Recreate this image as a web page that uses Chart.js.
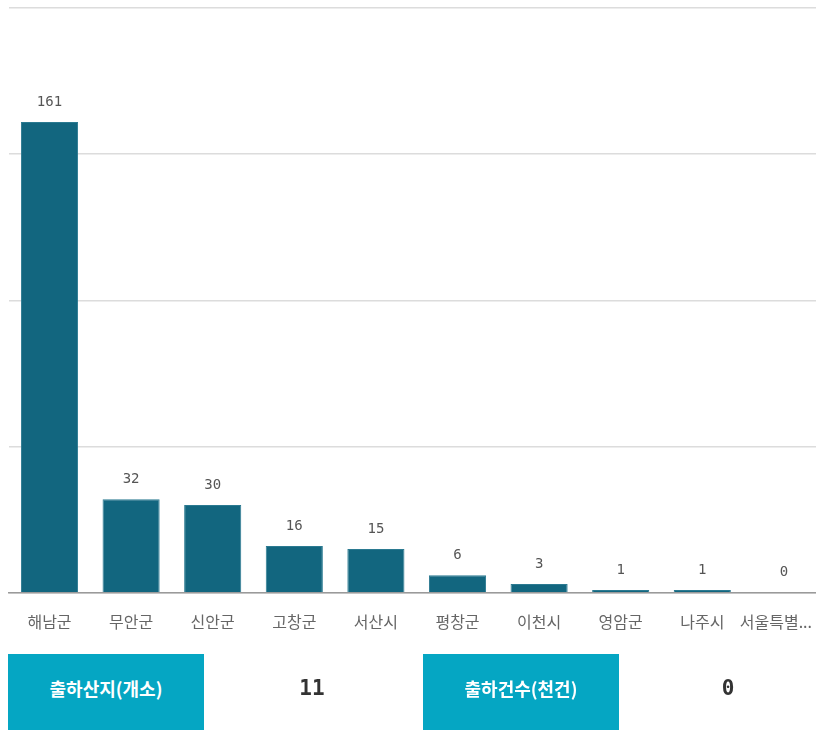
<!DOCTYPE html>
<html>
<head>
<meta charset="utf-8">
<script src="https://cdn.jsdelivr.net/npm/chart.js@4/dist/chart.umd.min.js"></script>
<style>
  html, body { margin: 0; padding: 0; background: #fff; overflow: hidden; width: 816px; height: 730px; }
  #chart { position: absolute; left: 0; top: 0; }
  .box { position: absolute; top: 654px; height: 80px; width: 196px; background: #05a6c3; color: #fff;
         font: bold 18px "Noto Sans CJK KR", sans-serif; text-align: center; line-height: 68px; }
  .num { position: absolute; top: 654px; height: 68px; width: 196px; color: #333;
         font: bold 21px "DejaVu Sans Mono", monospace; text-align: center; line-height: 68px; }
</style>
</head>
<body>
<canvas id="chart" width="826" height="660"></canvas>
<div class="box" style="left:8px">출하산지(개소)</div>
<div class="num" style="left:214px">11</div>
<div class="box" style="left:423px">출하건수(천건)</div>
<div class="num" style="left:630px">0</div>
<script>
const categories = ['해남군', '무안군', '신안군', '고창군', '서산시', '평창군', '이천시', '영암군', '나주시', '서울특별...'];
const values = [161, 32, 30, 16, 15, 6, 3, 1, 1, 0];
const yTicks = [0, 50, 100, 150, 200];

// keep the last category label inside the visible 816px
const fitLastLabel = {
  id: 'fitLastLabel',
  beforeDraw(chart) {
    const scale = chart.scales.x;
    const items = scale.getLabelItems(chart.chartArea);
    const last = items[items.length - 1];
    if (!last) return;
    const ctx = chart.ctx;
    ctx.save();
    ctx.font = last.font.string;
    const w = ctx.measureText(last.label).width;
    ctx.restore();
    last.options.translation[0] = Math.min(last.options.translation[0], 812 - w / 2);
  },
};

const valueLabels = {
  id: 'valueLabels',
  afterDatasetsDraw(chart) {
    const { ctx } = chart;
    const meta = chart.getDatasetMeta(0);
    ctx.save();
    ctx.font = '14px "DejaVu Sans Mono", monospace';
    ctx.fillStyle = '#555';
    ctx.textAlign = 'center';
    ctx.textBaseline = 'bottom';
    meta.data.forEach((bar, i) => {
      ctx.fillText(String(values[i]), bar.x, bar.y - 13);
    });
    ctx.restore();
  },
};

new Chart(document.getElementById('chart'), {
  type: 'bar',
  data: {
    labels: categories,
    datasets: [{
      data: values,
      backgroundColor: '#12667f',
      borderColor: '#2b7a91',
      borderWidth: 1,
      categoryPercentage: 1,
      barPercentage: 0.7,
    }],
  },
  options: {
    responsive: false,
    animation: false,
    layout: { padding: { left: 8.7, top: 8, right: 1.3, bottom: 8 } },
    plugins: { legend: { display: false }, tooltip: { enabled: false } },
    scales: {
      x: {
        afterFit(scale) { scale.paddingLeft = 0; scale.paddingRight = 0; },
        grid: { display: false, drawTicks: false },
        border: { color: '#9a9a9a', width: 1.5 },
        ticks: { color: '#666', padding: 20, font: { family: '"Noto Sans CJK KR", sans-serif', size: 16 }, maxRotation: 0, autoSkip: false },
      },
      y: {
        min: 0,
        max: 200,
        afterBuildTicks(axis) { axis.ticks = yTicks.map(v => ({ value: v })); },
        ticks: { display: false },
        grid: { color: '#dcdcdc', lineWidth: 1.5, drawTicks: false },
        border: { display: false },
      },
    },
  },
  plugins: [fitLastLabel, valueLabels],
});
</script>
</body>
</html>
